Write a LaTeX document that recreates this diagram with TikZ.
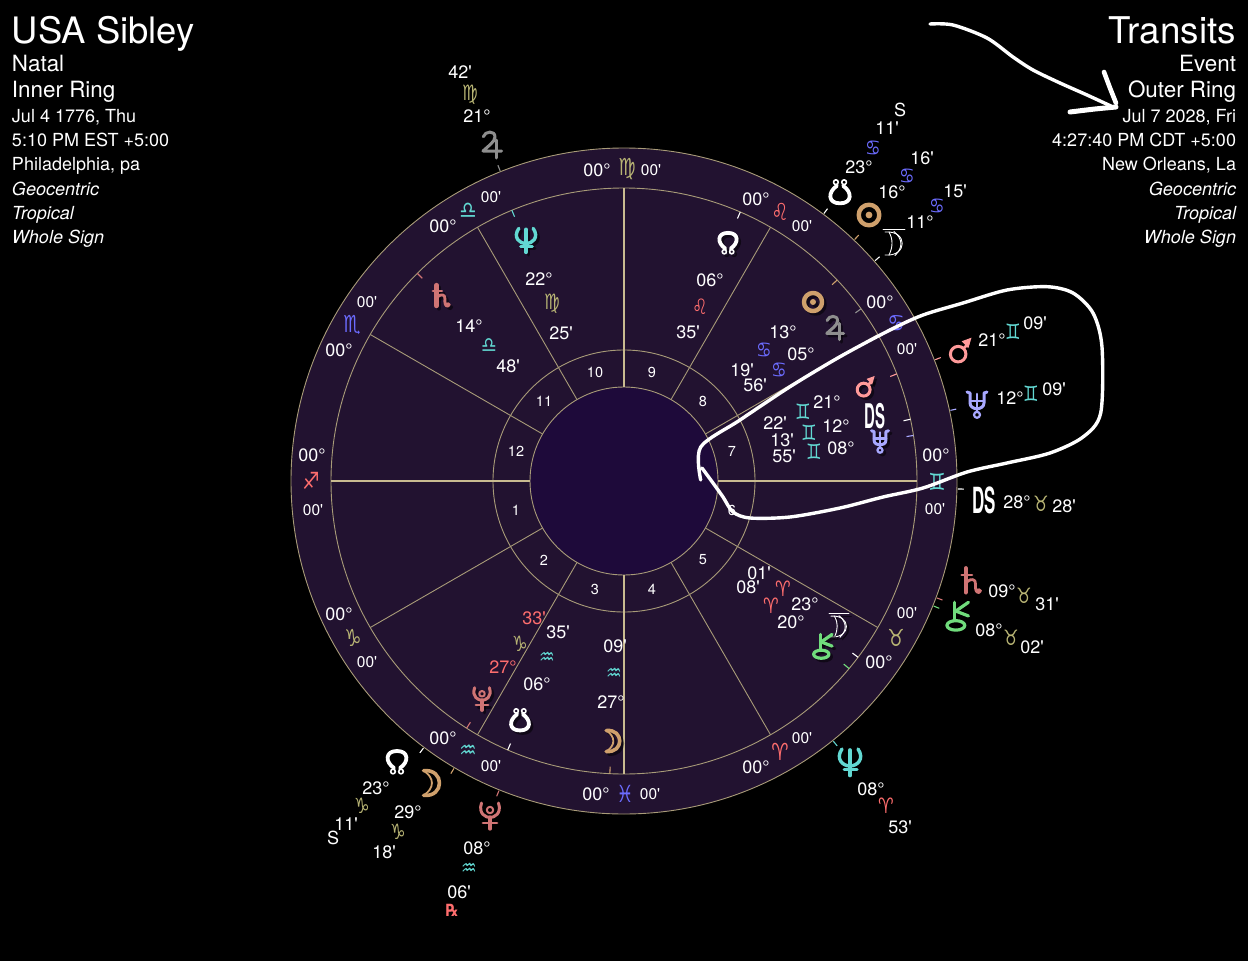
\documentclass[tikz,border=0pt]{standalone}
\usepackage{fontspec}
\usetikzlibrary{calc}
\newfontfamily\hv{TeX Gyre Heros}
\newfontfamily\dv{DejaVu Sans}
\definecolor{wheel}{HTML}{221230}
\definecolor{core}{HTML}{1E0A3A}
\definecolor{ringc}{HTML}{A89B78}
\definecolor{axisc}{HTML}{C9BB90}
\definecolor{olive}{HTML}{B8B474}
\definecolor{redz}{HTML}{FF6E6E}
\definecolor{bluez}{HTML}{6C6CFF}
\definecolor{teal}{HTML}{62D8D2}
\definecolor{tanp}{HTML}{CFA06C}
\definecolor{grayp}{HTML}{8E8E8E}
\definecolor{marsc}{HTML}{FF9A9A}
\definecolor{uran}{HTML}{A8A8FF}
\definecolor{satc}{HTML}{D07474}
\definecolor{chic}{HTML}{70DC7C}
\newcounter{nn}
\tikzset{x=1pt,y=-1pt,
  lab/.style={inner sep=0pt,outer sep=0pt,anchor=center},
  head/.style={inner sep=0pt,outer sep=0pt,text=white},
  ringline/.style={draw=ringc,line width=0.9pt},
  spoke/.style={draw=ringc,line width=0.9pt},
  axisline/.style={draw=axisc,line width=2.2pt},
  hand/.style={draw=white,line width=3.4pt,line cap=round,line join=round},
  glyphline/.style={line cap=round,line join=round}}
\newcommand\Tx[5]{\stepcounter{nn}%
  \node[lab,text=#4] (t\thenn) at (#1,#2) {\fontsize{#3}{#3}\selectfont\hv #5};}
\newcommand\Gl[5]{\stepcounter{nn}%
  \node[lab,text=#4,xscale=.92,yscale=1.12] (g\thenn) at (#1,#2) {\fontsize{#3}{#3}\selectfont\dv\bfseries #5};}
\newcommand\Ds[4]{\stepcounter{nn}%
  \node[lab,text=white,xscale=#4] (d\thenn) at (#1,#2) {\fontsize{#3}{#3}\selectfont\hv\bfseries DS};}
% planet bodies, drawn about (0,0)
\newcommand\bSun{\draw[line width=4.4pt] (0,0) circle (10.3); \fill (0,0) circle (3.4);}
\newcommand\bMoon{\draw[line width=3.6pt] (-4,-11) .. controls (15,-13) and (15,13) .. (-4,11);
  \draw[line width=1.8pt] (-4,-11) .. controls (6,-5) and (6,5) .. (-4,11);}
\newcommand\bNode{\draw[line width=3.8pt] (-3,6) .. controls (-12,0) and (-12,-11) .. (0,-11) .. controls (12,-11) and (12,0) .. (3,6);
  \draw[line width=1.6pt] (-4,9.5) circle (2.3); \draw[line width=1.6pt] (4,9.5) circle (2.3);}
\newcommand\bSNode{\begin{scope}[yscale=-1]\bNode\end{scope}}
\newcommand\bMars{\draw[line width=3pt] (-2.7,3) circle (7.4); \draw[line width=2.6pt] (2.5,-2.5) -- (7,-7);
  \fill (10,-12.7) -- (.7,-9.3) -- (7,-2.7) -- cycle;}
\newcommand\bJup{\draw[line width=3pt] (-7.7,-8.3) .. controls (-6,-14) and (4,-15) .. (4,-8) .. controls (4,-3) and (-4,2) .. (-8,6) -- (10.7,6);
  \draw[line width=3pt] (5.7,-5) -- (5.7,13);}
\newcommand\bSat{\draw[line width=4.4pt] (-5.3,-13.7) -- (-5.3,10.3);
  \draw[line width=2.6pt] (-9.3,-7) -- (1,-7);
  \draw[line width=2.8pt] (-4.3,0) .. controls (0,-4) and (5,-3) .. (4.5,2) .. controls (4,7) and (5,11) .. (8,10.5) .. controls (10,10) and (10,7.5) .. (7.5,7.5);}
\newcommand\bUra{\draw[line width=3pt] (-10,-12) -- (-7,-11) -- (-7,-1) .. controls (-7,3) and (-3,4.5) .. (0,5);
  \draw[line width=3pt] (10,-12) -- (7,-11) -- (7,-1) .. controls (7,3) and (3,4.5) .. (0,5);
  \draw[line width=2.6pt] (0,-10) -- (0,8);
  \draw[line width=2.6pt] (-7,-3) -- (7,-3);
  \draw[line width=2.2pt] (0,10.8) circle (3);}
\newcommand\bNep{\draw[line width=3.4pt] (-8,-14) .. controls (-15,-4) and (-7,3) .. (0,3) .. controls (7,3) and (15,-4) .. (8,-14);
  \draw[line width=3.6pt] (0,-13) -- (0,12.5);
  \draw[line width=3pt] (-6,6) -- (7,6);}
\newcommand\bPlu{\draw[line width=3pt] (-8.5,-13) .. controls (-12,-2) and (-4,1.5) .. (0,1.5) .. controls (4,1.5) and (12,-2) .. (8.5,-13);
  \draw[line width=2pt] (0,-6) circle (3.2);
  \draw[line width=3.2pt] (0,1) -- (0,13);
  \draw[line width=2.8pt] (-7,7) -- (7,7);}
\newcommand\bChi{\draw[line width=3.2pt] (-4,-14) -- (-4,3);
  \draw[line width=3.2pt] (-4,-5) -- (9,-14);
  \draw[line width=3.2pt] (-4,-6) -- (9,-1);
  \draw[line width=3.2pt] (-3,8) ellipse (8.5 and 4.5);}
\newcommand\bLil{\draw[line width=.9pt] (-11,-13.5) -- (11,-13.5);
  \draw[line width=.9pt] (-9,-11) .. controls (14,-13) and (14,14) .. (-9,12);
  \draw[line width=.9pt] (-5,-11) .. controls (-1,-4) and (-1,4) .. (-5,12);
  \draw[line width=.9pt] (0,-11.5) .. controls (9,-4) and (9,5) .. (1,12.5);}
% x y scale colour body
\newcommand\Pl[5]{%
  \begin{scope}[glyphline,shift={(#1+2.5,#2+2.5)},scale=#3,draw=black,fill=black,opacity=.5]#5\end{scope}
  \begin{scope}[glyphline,shift={(#1,#2)},scale=#3,draw=#4,fill=#4]#5\end{scope}}
\newcommand\TkO[3]{\draw[#3,line width=1.1pt] ($(C)!334pt!(#1,#2)$) -- ($(C)!340pt!(#1,#2)$);}
\newcommand\TkI[3]{\draw[#3,line width=1.1pt] ($(C)!286pt!(#1,#2)$) -- ($(C)!293pt!(#1,#2)$);}
\begin{document}
\begin{tikzpicture}
\useasboundingbox (0,0) rectangle (1248,961);
\fill[black] (0,0) rectangle (1248,961);
\coordinate (C) at (624,481);
% wheel
\fill[wheel] (C) circle (333);
\draw[ringline] (C) circle (333);
\draw[ringline] (C) circle (293);
\draw[ringline] (C) circle (131);
\fill[core] (C) circle (94);
\draw[ringline] (C) circle (94);
\foreach \a in {30,60,120,150,210,240,300,330}
  \draw[spoke] ($(C)+(\a:94 and -94)$) -- ($(C)+(\a:293 and -293)$);
\foreach \a in {0,90,180,270}
  \draw[axisline] ($(C)+(\a:94 and -94)$) -- ($(C)+(\a:293 and -293)$);
% ticks
\TkO{499}{168}{grayp}\TkO{825}{212}{white}\TkO{856}{238}{tanp}\TkO{877}{259}{white}
\TkO{937}{359}{marsc}\TkO{952}{410}{uran}\TkO{960}{489}{white}\TkO{937}{598}{satc}
\TkO{936}{607}{chic}\TkO{834}{742}{teal}\TkO{498}{793}{satc}\TkO{453}{770}{tanp}\TkO{422}{750}{white}
\TkI{739}{215}{white}\TkI{835}{282}{tanp}\TkI{858}{311}{grayp}\TkI{894}{375}{marsc}
\TkI{907}{420}{white}\TkI{910}{436}{uran}\TkI{855}{655}{white}\TkI{846}{666}{chic}
\TkI{513}{213}{teal}\TkI{420}{276}{satc}\TkI{468}{726}{satc}\TkI{509}{747}{white}\TkI{610}{770}{tanp}
% house numbers
\Tx{595}{372}{14.5}{white}{10}\Tx{652}{372}{14.5}{white}{9}\Tx{703}{401}{14.5}{white}{8}
\Tx{732}{451}{14.5}{white}{7}\Tx{732}{510}{14.5}{white}{6}\Tx{703}{560}{14.5}{white}{5}
\Tx{652}{589}{14.5}{white}{4}\Tx{595}{589}{14.5}{white}{3}\Tx{544}{560}{14.5}{white}{2}
\Tx{516}{510}{14.5}{white}{1}\Tx{516}{451}{14.5}{white}{12}\Tx{544}{401}{14.5}{white}{11}
% sign ring
\Tx{597}{170}{18}{white}{00°}\Gl{627}{169}{21}{olive}{♍}\Tx{651}{170}{15.5}{white}{00'}
\Tx{756}{199}{18}{white}{00°}\Gl{780}{212}{21}{redz}{♌}\Tx{802}{226}{15.5}{white}{00'}
\Tx{880}{302}{18}{white}{00°}\Gl{896}{324}{21}{bluez}{♋}\Tx{907}{349}{15.5}{white}{00'}
\Tx{936}{455}{18}{white}{00°}\Gl{937}{482}{21}{teal}{♊}\Tx{935}{509}{15.5}{white}{00'}
\Tx{907}{613}{15.5}{white}{00'}\Gl{896}{638}{21}{olive}{♉}\Tx{879}{662}{18}{white}{00°}
\Tx{802}{738}{15.5}{white}{00'}\Gl{780}{752}{21}{redz}{♈}\Tx{756}{767}{18}{white}{00°}
\Tx{650}{794}{15.5}{white}{00'}\Gl{625}{794}{21}{bluez}{♓}\Tx{596}{794}{18}{white}{00°}
\Tx{491}{766}{15.5}{white}{00'}\Gl{468}{752}{21}{teal}{♒}\Tx{443}{738}{18}{white}{00°}
\Tx{367}{662}{15.5}{white}{00'}\Gl{353}{638}{21}{olive}{♑}\Tx{339}{614}{18}{white}{00°}
\Tx{313}{510}{15.5}{white}{00'}\Gl{311}{481}{21}{redz}{♐}\Tx{312}{455}{18}{white}{00°}
\Tx{339}{350}{18}{white}{00°}\Gl{352}{325}{21}{bluez}{♏}\Tx{367}{302}{15.5}{white}{00'}
\Tx{443}{226}{18}{white}{00°}\Gl{468}{211}{21}{teal}{♎}\Tx{491}{197}{15.5}{white}{00'}
% inner planets
\Pl{728}{243}{.92}{white}{\bNode}\Tx{710}{280}{18}{white}{06°}\Gl{700}{307}{19}{redz}{♌}\Tx{688}{332}{18}{white}{35'}
\Pl{813}{302}{.88}{tanp}{\bSun}\Pl{834}{328}{.9}{grayp}{\bJup}
\Tx{783}{332}{18}{white}{13°}\Gl{764}{350}{19}{bluez}{♋}\Tx{742}{370}{18}{white}{19'}
\Tx{801}{354}{18}{white}{05°}\Gl{779}{370}{19}{bluez}{♋}\Tx{755}{385}{18}{white}{56'}
\Pl{866}{387}{.87}{marsc}{\bMars}\Ds{875}{416}{34}{.44}\Pl{880}{441}{.85}{uran}{\bUra}
\Gl{803}{412}{19}{teal}{♊}\Tx{827}{402}{18}{white}{21°}\Tx{775}{423}{18}{white}{22'}
\Gl{809}{433}{19}{teal}{♊}\Tx{836}{426}{18}{white}{12°}\Tx{782}{440}{18}{white}{13'}
\Gl{814}{452}{19}{teal}{♊}\Tx{841}{448}{18}{white}{08°}\Tx{784}{456}{18}{white}{55'}
\Tx{759}{573}{18}{white}{01'}\Tx{748}{587}{18}{white}{08'}\Gl{783}{589}{19}{redz}{♈}\Gl{771}{606}{19}{redz}{♈}
\Tx{805}{604}{18}{white}{23°}\Tx{791}{622}{18}{white}{20°}\Pl{839}{626}{.9}{white}{\bLil}\Pl{824}{647}{.9}{chic}{\bChi}
\Tx{534}{618}{18}{redz}{33'}\Gl{520}{644}{19}{olive}{♑}\Tx{503}{667}{18}{redz}{27°}\Pl{482}{699}{.87}{satc}{\bPlu}
\Tx{558}{632}{18}{white}{35'}\Gl{547}{658}{19}{teal}{♒}\Tx{537}{684}{18}{white}{06°}\Pl{520}{720}{.95}{white}{\bSNode}
\Tx{615}{646}{18}{white}{09'}\Gl{614}{674}{19}{teal}{♒}\Tx{611}{702}{18}{white}{27°}\Pl{610}{741}{.95}{tanp}{\bMoon}
\Pl{526}{241}{.9}{teal}{\bNep}\Tx{539}{279}{18}{white}{22°}\Gl{552}{304}{19}{olive}{♍}\Tx{561}{333}{18}{white}{25'}
\Pl{441}{297}{.87}{satc}{\bSat}\Tx{469}{326}{18}{white}{14°}\Gl{489}{346}{19}{teal}{♎}\Tx{508}{366}{18}{white}{48'}
% outer planets
\Tx{460}{72}{18}{white}{42'}\Gl{470}{95}{19}{olive}{♍}\Tx{477}{116}{18}{white}{21°}\Pl{491}{145}{1}{grayp}{\bJup}
\Pl{840}{192}{1.03}{white}{\bSNode}\Pl{869}{215}{1}{tanp}{\bSun}\Pl{894}{243}{1}{white}{\bLil}
\Tx{859}{167}{18}{white}{23°}\Gl{873}{148}{19}{bluez}{♋}\Tx{887}{128}{18}{white}{11'}\Tx{900}{110}{18}{white}{S}
\Tx{892}{192}{18}{white}{16°}\Gl{907}{176}{19}{bluez}{♋}\Tx{922}{158}{18}{white}{16'}
\Tx{920}{222}{18}{white}{11°}\Gl{937}{206}{19}{bluez}{♋}\Tx{955}{191}{18}{white}{15'}
\Pl{961}{351}{1.05}{marsc}{\bMars}\Tx{992}{340}{18}{white}{21°}\Gl{1013}{332}{19}{teal}{♊}\Tx{1035}{323}{18}{white}{09'}
\Pl{977}{404}{1}{uran}{\bUra}\Tx{1010}{398}{18}{white}{12°}\Gl{1031}{394}{19}{teal}{♊}\Tx{1054}{389}{18}{white}{09'}
\Ds{984}{500}{36}{.47}\Tx{1017}{502}{18}{white}{28°}\Gl{1041}{504}{19}{olive}{♉}\Tx{1064}{506}{18}{white}{28'}
\Pl{971}{582}{1}{satc}{\bSat}\Tx{1002}{591}{18}{white}{09°}\Gl{1024}{596}{19}{olive}{♉}\Tx{1047}{604}{18}{white}{31'}
\Pl{959}{617}{1.05}{chic}{\bChi}\Tx{989}{630}{18}{white}{08°}\Gl{1011}{638}{19}{olive}{♉}\Tx{1032}{647}{18}{white}{02'}
\Pl{850}{763}{1}{teal}{\bNep}\Tx{871}{789}{18}{white}{08°}\Gl{886}{806}{19}{redz}{♈}\Tx{900}{827}{18}{white}{53'}
\Pl{397}{762}{1}{white}{\bNode}\Pl{428}{783}{1.12}{tanp}{\bMoon}
\Tx{376}{788}{18}{white}{23°}\Gl{362}{806}{19}{olive}{♑}\Tx{346}{824}{18}{white}{11'}\Tx{333}{838}{18}{white}{S}
\Tx{408}{812}{18}{white}{29°}\Gl{398}{832}{19}{olive}{♑}\Tx{384}{852}{18}{white}{18'}
\Pl{490}{816}{1}{satc}{\bPlu}\Tx{477}{848}{18}{white}{08°}\Gl{469}{869}{19}{teal}{♒}\Tx{459}{892}{18}{white}{06'}
\Gl{452}{910}{15}{redz}{℞}
% left header
\node[head,anchor=base west] (h1) at (12,43) {\fontsize{36.4}{36.4}\selectfont\hv USA Sibley};
\node[head,anchor=base west] (h2) at (12,71) {\fontsize{22.4}{22.4}\selectfont\hv Natal};
\node[head,anchor=base west] (h3) at (12,97) {\fontsize{22.4}{22.4}\selectfont\hv Inner Ring};
\node[head,anchor=base west] (h4) at (12,122) {\fontsize{18}{18}\selectfont\hv Jul 4 1776, Thu};
\node[head,anchor=base west] (h5) at (12,146) {\fontsize{18}{18}\selectfont\hv 5:10 PM EST +5:00};
\node[head,anchor=base west] (h6) at (12,170) {\fontsize{18}{18}\selectfont\hv Philadelphia, pa};
\node[head,anchor=base west] (h7) at (12,195) {\fontsize{18}{18}\selectfont\hv\itshape Geocentric};
\node[head,anchor=base west] (h8) at (12,219) {\fontsize{18}{18}\selectfont\hv\itshape Tropical};
\node[head,anchor=base west] (h9) at (12,243) {\fontsize{18}{18}\selectfont\hv\itshape Whole Sign};
% right header
\node[head,anchor=base east] (r1) at (1236,43) {\fontsize{36.8}{36.8}\selectfont\hv Transits};
\node[head,anchor=base east] (r2) at (1236,71) {\fontsize{22.4}{22.4}\selectfont\hv Event};
\node[head,anchor=base east] (r3) at (1236,97) {\fontsize{22.4}{22.4}\selectfont\hv Outer Ring};
\node[head,anchor=base east] (r4) at (1236,122) {\fontsize{18}{18}\selectfont\hv Jul 7 2028, Fri};
\node[head,anchor=base east] (r5) at (1236,146) {\fontsize{18}{18}\selectfont\hv 4:27:40 PM CDT +5:00};
\node[head,anchor=base east] (r6) at (1236,170) {\fontsize{18}{18}\selectfont\hv New Orleans, La};
\node[head,anchor=base east] (r7) at (1236,195) {\fontsize{18}{18}\selectfont\hv\itshape Geocentric};
\node[head,anchor=base east] (r8) at (1236,219) {\fontsize{18}{18}\selectfont\hv\itshape Tropical};
\node[head,anchor=base east] (r9) at (1236,243) {\fontsize{18}{18}\selectfont\hv\itshape Whole Sign};
% hand-drawn loop
\draw[hand] plot[smooth,tension=.5] coordinates {(700.7,480) (700.7,447) (740,420) (790,386.7) (840,356.7) (890,330) (923,315) (963,303) (1007,290) (1047,286.7) (1073,293) (1093,313) (1102,347) (1100.7,413) (1083,437) (1050,453) (1007,463) (967,472) (923,488) (883,497) (840,508) (790,517) (750,518) (733,512) (723,497) (713,483) (702,468)};
% hand-drawn arrow
\draw[hand] plot[smooth,tension=.5] coordinates {(930,24) (953,25) (987,38) (1013,57) (1033,70) (1060,83) (1087,95) (1113,107)};
\draw[hand,line width=4.6pt] plot[smooth,tension=.4] coordinates {(1104,72) (1110,88) (1116,103)};
\draw[hand,line width=5pt] plot[smooth,tension=.4] coordinates {(1116,107) (1095,109) (1070,112)};
\end{tikzpicture}
\end{document}
